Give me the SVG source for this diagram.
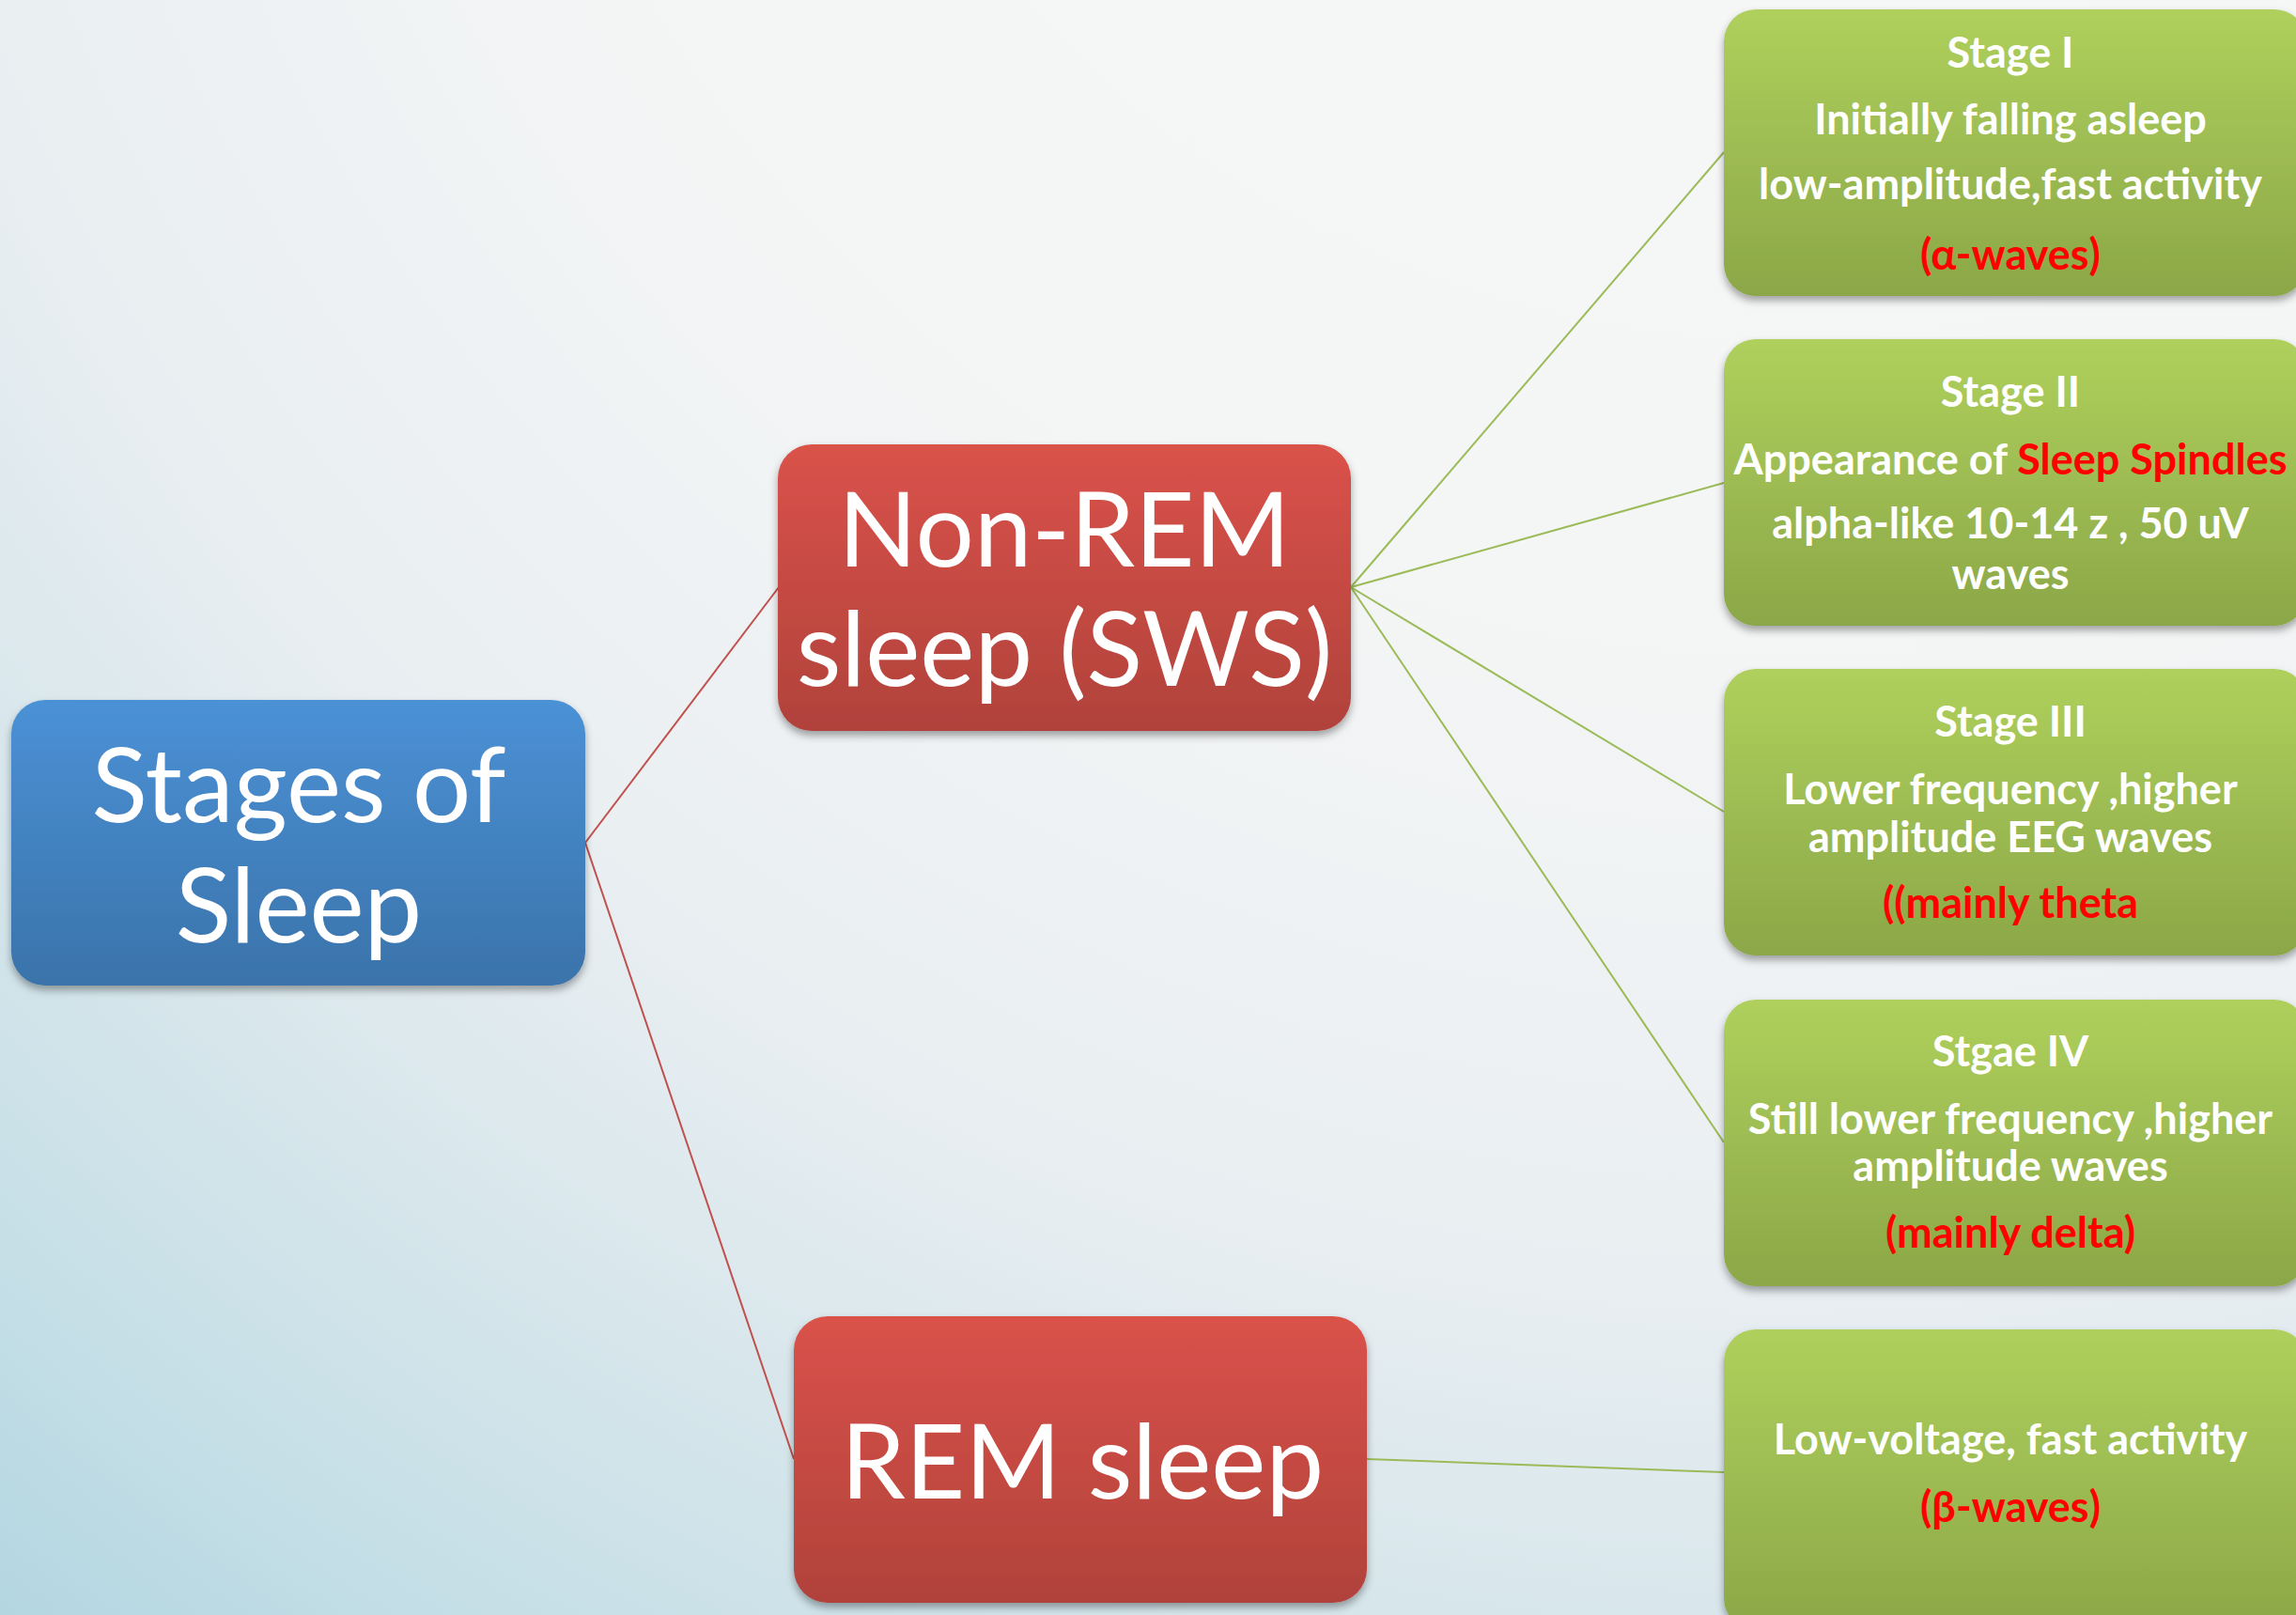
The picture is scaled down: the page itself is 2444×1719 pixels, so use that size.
<svg xmlns="http://www.w3.org/2000/svg" width="2444" height="1719" viewBox="0 0 2444 1719">
<defs>
<radialGradient id="bg" cx="1900" cy="-700" r="3080" gradientUnits="userSpaceOnUse">
<stop offset="0" stop-color="#f8f8f8"/>
<stop offset="0.45" stop-color="#f4f5f5"/>
<stop offset="0.66" stop-color="#eaeff2"/>
<stop offset="0.78" stop-color="#d9e7ec"/>
<stop offset="0.9" stop-color="#c6dfe7"/>
<stop offset="1" stop-color="#b3d6e1"/>
</radialGradient>
<linearGradient id="gBlue" x1="0" y1="0" x2="0" y2="1">
<stop offset="0" stop-color="#4b91d6"/>
<stop offset="1" stop-color="#3a73aa"/>
</linearGradient>
<linearGradient id="gRed" x1="0" y1="0" x2="0" y2="1">
<stop offset="0" stop-color="#da524a"/>
<stop offset="1" stop-color="#b0423b"/>
</linearGradient>
<linearGradient id="gGreen" x1="0" y1="0" x2="0" y2="1">
<stop offset="0" stop-color="#afd05c"/>
<stop offset="1" stop-color="#8ba748"/>
</linearGradient>
<filter id="sh" x="-5%" y="-5%" width="110%" height="115%">
<feDropShadow dx="0" dy="5" stdDeviation="4" flood-color="#000" flood-opacity="0.35"/>
</filter>
</defs>
<style>
.big{font-family:Lato,"Liberation Sans",sans-serif;font-size:110px;fill:#fff;text-anchor:middle}
.sm{font-family:Lato,"Liberation Sans",sans-serif;font-weight:bold;font-size:45px;fill:#fff;text-anchor:middle}
.red{fill:#ff0000}
.lr{stroke:#c0504d;stroke-width:2;fill:none}
.lg{stroke:#9bbb59;stroke-width:2;fill:none}
</style>
<rect x="0" y="0" width="2444" height="1719" fill="url(#bg)"/>
<g id="connectors">
<line class="lr" x1="623" y1="897" x2="829" y2="625"/>
<line class="lr" x1="623" y1="897" x2="845" y2="1553"/>
<line class="lg" x1="1438" y1="625" x2="1835" y2="162"/>
<line class="lg" x1="1438" y1="625" x2="1835" y2="514"/>
<line class="lg" x1="1438" y1="625" x2="1835" y2="864"/>
<line class="lg" x1="1438" y1="625" x2="1835" y2="1216"/>
<line class="lg" x1="1455" y1="1553" x2="1835" y2="1567"/>
</g>
<g id="stages">
<rect x="12" y="745" width="611" height="304" rx="36" fill="url(#gBlue)" filter="url(#sh)"/>
<text class="big" x="318" y="875">Stages of</text>
<text class="big" x="318" y="1003">Sleep</text>
</g>
<g id="nonrem">
<rect x="828" y="473" width="610" height="305" rx="36" fill="url(#gRed)" filter="url(#sh)"/>
<text class="big" x="1133" y="603">Non-REM</text>
<text class="big" x="1133" y="730">sleep (SWS)</text>
</g>
<g id="rem">
<rect x="845" y="1401" width="610" height="305" rx="36" fill="url(#gRed)" filter="url(#sh)"/>
<text class="big" x="1152" y="1595">REM sleep</text>
</g>
<g id="stage1">
<rect x="1835" y="10" width="620" height="305" rx="34" fill="url(#gGreen)" filter="url(#sh)"/>
<text class="sm" x="2140" y="72">Stage I</text>
<text class="sm" x="2140" y="143">Initially falling asleep</text>
<text class="sm" x="2140" y="212">low-amplitude,fast activity</text>
<text class="sm red" x="2140" y="287">(α-waves)</text>
</g>
<g id="stage2">
<rect x="1835" y="361" width="620" height="305" rx="34" fill="url(#gGreen)" filter="url(#sh)"/>
<text class="sm" x="2140" y="433">Stage II</text>
<text class="sm" x="2140" y="505">Appearance of <tspan class="red">Sleep Spindles</tspan></text>
<text class="sm" x="2140" y="573">alpha-like 10-14 z , 50 uV</text>
<text class="sm" x="2140" y="627">waves</text>
</g>
<g id="stage3">
<rect x="1835" y="712" width="620" height="305" rx="34" fill="url(#gGreen)" filter="url(#sh)"/>
<text class="sm" x="2140" y="784">Stage III</text>
<text class="sm" x="2140" y="856">Lower frequency ,higher</text>
<text class="sm" x="2140" y="907">amplitude EEG waves</text>
<text class="sm red" x="2140" y="977">((mainly theta</text>
</g>
<g id="stage4">
<rect x="1835" y="1064" width="620" height="305" rx="34" fill="url(#gGreen)" filter="url(#sh)"/>
<text class="sm" x="2140" y="1135">Stgae IV</text>
<text class="sm" x="2140" y="1207">Still lower frequency ,higher</text>
<text class="sm" x="2140" y="1257">amplitude waves</text>
<text class="sm red" x="2140" y="1328">(mainly delta)</text>
</g>
<g id="remdesc">
<rect x="1835" y="1415" width="620" height="320" rx="34" fill="url(#gGreen)" filter="url(#sh)"/>
<text class="sm" x="2140" y="1548">Low-voltage, fast activity</text>
<text class="sm red" x="2140" y="1620">(β-waves)</text>
</g>
</svg>
